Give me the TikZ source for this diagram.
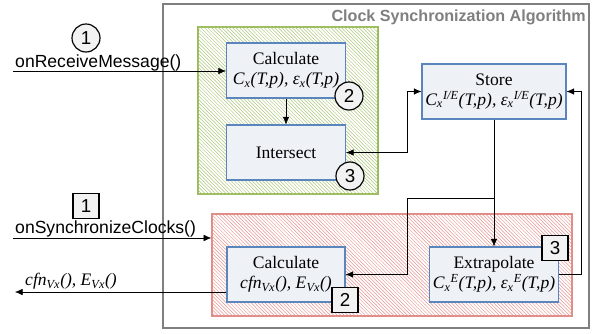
\documentclass[tikz,border=0pt]{standalone}
\usepackage{fontspec}
\setmainfont{Liberation Serif}
\setsansfont{Liberation Sans}
\usetikzlibrary{patterns,arrows.meta}

\definecolor{boxfill}{RGB}{238,242,247}
\definecolor{boxline}{RGB}{91,134,189}
\definecolor{greenline}{RGB}{155,187,89}
\definecolor{greenhatch}{RGB}{175,200,125}
\definecolor{redline}{RGB}{224,140,135}
\definecolor{redhatch}{RGB}{232,150,146}
\definecolor{framegray}{RGB}{127,127,127}

\begin{document}
\begin{tikzpicture}[x=0.03cm, y=-0.03cm, >={Latex[length=6.5pt,width=5.5pt]},
    every node/.style={font=\fontsize{15}{17}\selectfont},
    task/.style={draw=boxline, fill=boxfill, line width=1pt, align=center,
                 minimum height=1.65cm, inner sep=1pt},
    area/.style={line width=1.2pt, inner sep=0pt, fill=white},
    numcircle/.style={circle, draw, fill=black!5, line width=1pt,
                      minimum size=0.84cm, inner sep=0pt,
                      font=\sffamily\fontsize{16}{18}\selectfont},
    numsquare/.style={rectangle, draw, fill=black!5, line width=1pt,
                      minimum width=0.78cm, minimum height=0.75cm, inner sep=0pt,
                      font=\sffamily\fontsize{16}{18}\selectfont},
    callname/.style={anchor=base west, inner sep=0pt,
                     font=\sffamily\fontsize{15}{17}\selectfont}
]
\useasboundingbox (0,0) rectangle (596,333);

% algorithm frame
\draw[framegray, line width=1.3pt] (163,4) rectangle (589,328);
\node[anchor=base east, inner sep=0pt, text=framegray,
      font=\sffamily\bfseries\fontsize{13.75}{16}\selectfont] (title) at (586,21.5)
      {Clock Synchronization Algorithm};

% receive and synchronize areas
\node[area, draw=greenline, postaction={pattern=north west lines, pattern color=greenhatch},
      minimum width=5.4cm, minimum height=5.01cm] (recvarea) at (288,110.5) {};
\node[area, draw=redline, postaction={pattern=north west lines, pattern color=redhatch},
      minimum width=10.8cm, minimum height=3.06cm] (syncarea) at (392,265) {};

% tasks
\node[task, minimum width=3.57cm] (calcrecv) at (286,70.5)
      {Calculate\\ \textit{C\textsubscript{x}(T,p), ε\textsubscript{x}(T,p)}};
\node[task, minimum width=3.57cm] (intersect) at (286,152.5) {Intersect};
\node[task, minimum width=4.32cm] (store) at (494,91.5)
      {Store\\ \textit{C\textsubscript{x}\textsuperscript{I/E}(T,p), ε\textsubscript{x}\textsuperscript{I/E}(T,p)}};
\node[task, minimum width=3.54cm] (calcsync) at (286,274.5)
      {Calculate\\ \textit{cfn\textsubscript{Vx}(), E\textsubscript{Vx}()}};
\node[task, minimum width=3.87cm] (extrapolate) at (494,274.5)
      {Extrapolate\\ \textit{C\textsubscript{x}\textsuperscript{E}(T,p), ε\textsubscript{x}\textsuperscript{E}(T,p)}};

% step numbers
\node[numcircle] (recvstep) at (86,38) {1};
\node[numcircle] (calcrecvstep) at (349,96) {2};
\node[numcircle] (intersectstep) at (350,176) {3};
\node[numsquare] (syncstep) at (86,206) {1};
\node[numsquare] (calcsyncstep) at (345,300) {2};
\node[numsquare] (extrapolatestep) at (555,248) {3};

% calls in and out
\node[callname] (recvname) at (15,67) {onReceiveMessage()};
\node[callname] (syncname) at (15,233) {onSynchronizeClocks()};
\node[anchor=base west, inner sep=0pt] (outname) at (25,285.5)
      {\textit{cfn\textsubscript{Vx}(), E\textsubscript{Vx}()}};
\coordinate (recvin) at (13,71);
\coordinate (syncin) at (13,238);
\coordinate (syncout) at (15,292);
\coordinate (leftbus) at (407,0);
\coordinate (rightbus) at (581,0);
\path (store.south) ++(0,79) coordinate (split);

\draw[->] (recvin) -- (recvin -| calcrecv.west);
\draw[->] (syncin) -- (syncin -| syncarea.west);
\draw[->] (calcsync.west |- syncout) -- (syncout);

\draw[->] (calcrecv) -- (intersect);
\draw[<->] (intersect.east) -- (intersect.east -| leftbus) |- (store.west);
\draw[->] (store) -- (extrapolate);
\draw[->] (split) -- (split -| leftbus) |- (calcsync.east);
\draw[->] (extrapolate.east) -- (extrapolate.east -| rightbus) |- (store.east);
\end{tikzpicture}
\end{document}
